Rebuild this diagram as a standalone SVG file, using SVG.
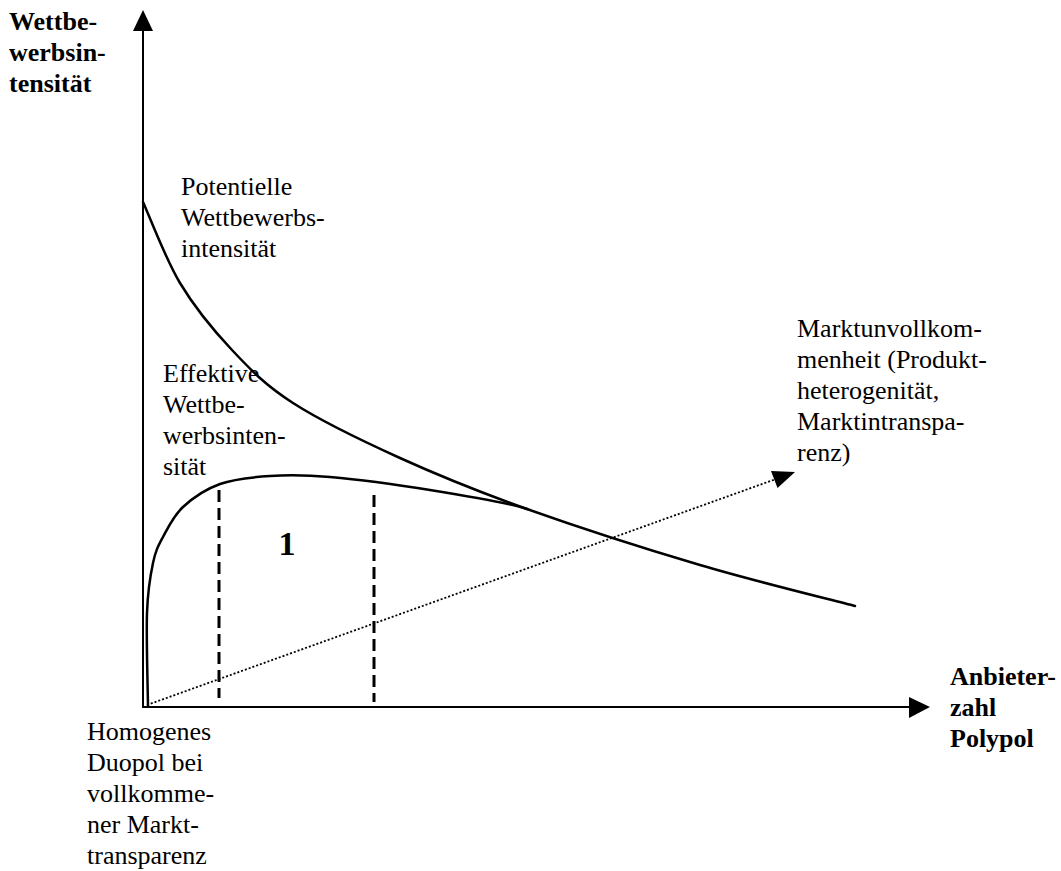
<svg xmlns="http://www.w3.org/2000/svg" width="1061" height="871" viewBox="0 0 1061 871">
<style>
text{font-family:"Liberation Serif","Times New Roman",serif;font-size:26px;fill:#000}
.b{font-weight:bold}
.ax{stroke:#000;stroke-width:2;fill:none}
.cv{stroke:#000;stroke-width:2.5;fill:none;stroke-linecap:round}
.dash{stroke:#000;stroke-width:3;stroke-dasharray:12 6;fill:none}
.dot{stroke:#000;stroke-width:1.8;stroke-dasharray:2 2;fill:none}
.ah{fill:#000}
</style>
<rect width="1061" height="871" fill="#fff"/>
<g id="connectors">
<line class="ax" x1="143" y1="707" x2="143" y2="28"/>
<polygon class="ah" points="143,10 133,31 153,31"/>
<line class="ax" x1="142" y1="707" x2="912" y2="707"/>
<polygon class="ah" points="930,707 909,697 909,718"/>
<line class="dot" x1="147" y1="705" x2="776" y2="479"/>
<polygon class="ah" points="795,472 771,471 777.5,488"/>
<line class="dash" x1="219" y1="490" x2="219" y2="698"/>
<line class="dash" x1="374" y1="495" x2="374" y2="702"/>
</g>
<g id="potential-curve">
<path class="cv" d="M143,202 C149.2,215.5 165.2,258.3 180,283 C194.8,307.7 213.2,330 232,350 C250.8,370 265,385 293,403 C321,421 361,440.3 400,458 C439,475.7 477,491.2 527,509 C577,526.8 645.3,548.8 700,565 C754.7,581.2 829.2,599.2 855,606"/>
</g>
<g id="effective-curve">
<path class="cv" d="M148,706 C147.8,690.5 146.2,636.8 147,613 C147.8,589.2 150.3,575.7 153,563 C155.7,550.3 158,546.3 163,537 C168,527.7 173.5,515.8 183,507 C192.5,498.2 205.5,489.2 220,484 C234.5,478.8 251.7,477.2 270,476 C288.3,474.8 303.3,474.7 330,477 C356.7,479.3 397.2,484.7 430,490 C462.8,495.3 510.8,503.3 527,509"/>
</g>
<g id="y-label">
<text class="b" x="9" y="30">Wettbe-</text>
<text class="b" x="9" y="61">werbsin-</text>
<text class="b" x="9" y="92">tensität</text>
</g>
<g id="potential-label">
<text x="181" y="195">Potentielle</text>
<text x="181" y="226">Wettbewerbs-</text>
<text x="181" y="257">intensität</text>
</g>
<g id="effective-label">
<text x="163" y="382">Effektive</text>
<text x="163" y="413">Wettbe-</text>
<text x="163" y="444">werbsinten-</text>
<text x="163" y="475">sität</text>
</g>
<g id="area-1">
<text class="b" x="287" y="555" text-anchor="middle" style="font-size:34px">1</text>
</g>
<g id="market-label">
<text x="797" y="337">Marktunvollkom-</text>
<text x="797" y="368">menheit (Produkt-</text>
<text x="797" y="399">heterogenität,</text>
<text x="797" y="430">Marktintranspa-</text>
<text x="797" y="461">renz)</text>
</g>
<g id="x-label">
<text class="b" x="950" y="685">Anbieter-</text>
<text class="b" x="950" y="716">zahl</text>
<text class="b" x="950" y="747">Polypol</text>
</g>
<g id="origin-label">
<text x="87" y="740">Homogenes</text>
<text x="87" y="771">Duopol bei</text>
<text x="87" y="802">vollkomme-</text>
<text x="87" y="833">ner Markt-</text>
<text x="87" y="864">transparenz</text>
</g>
</svg>
